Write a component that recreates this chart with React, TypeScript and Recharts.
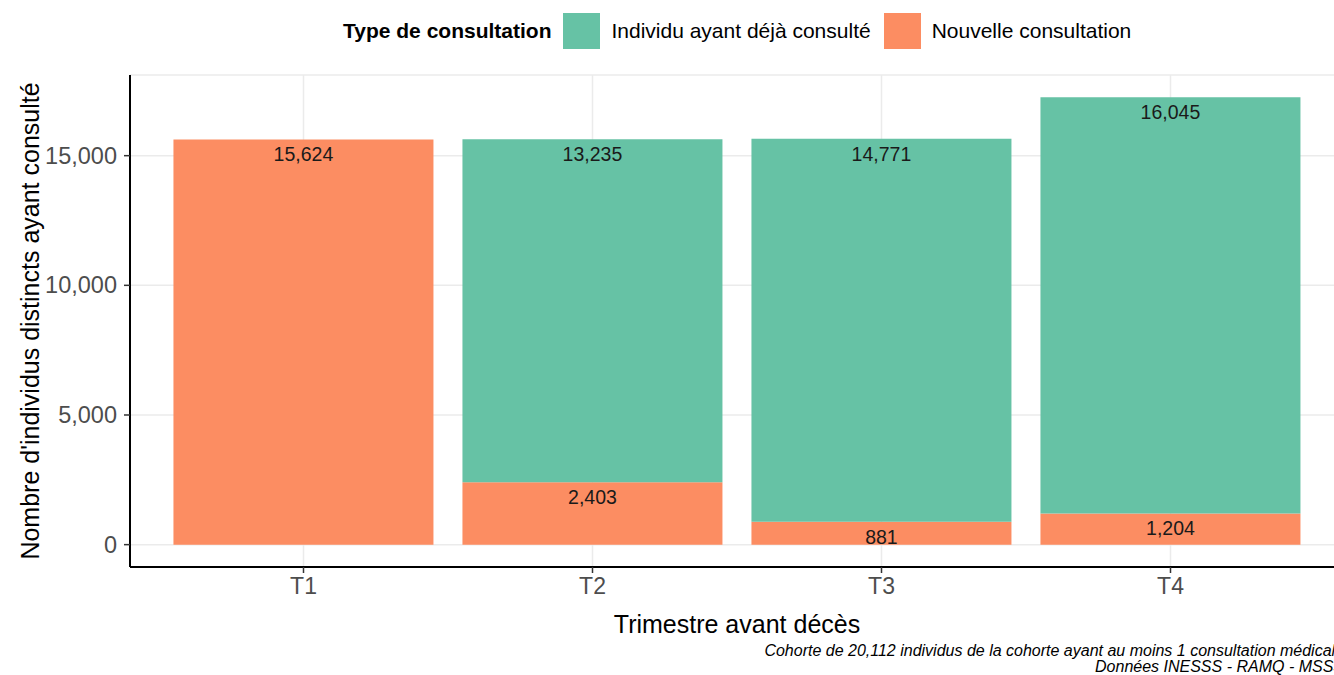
import { BarChart, Bar, XAxis, YAxis, CartesianGrid, Legend, LabelList } from 'recharts'

const trimestres = ['T1', 'T2', 'T3', 'T4']
const nouvelle = [15624, 2403, 881, 1204]
const dejaConsulte = [0, 13235, 14771, 16045]
const yTicks = [0, 5000, 10000, 15000]

const series = [
  { key: 'deja', label: 'Individu ayant déjà consulté', color: '#66C2A5' },
  { key: 'nouvelle', label: 'Nouvelle consultation', color: '#FC8D62' },
]

const FONT = '"Liberation Sans", Arial, sans-serif'

const rows = trimestres.map((t, i) => ({
  trimestre: t,
  nouvelle: nouvelle[i],
  deja: dejaConsulte[i],
}))

const fmtNum = (v: number) => (v ? Number(v).toLocaleString('en-US') : '')

function LegendBox() {
  return (
    <div style={{ height: 62, display: 'flex', alignItems: 'center', fontFamily: FONT, fontSize: 21, color: '#000', paddingLeft: 343 }}>
      <span style={{ fontWeight: 700, marginRight: 12 }}>Type de consultation</span>
      {series.map(s => (
        <span key={s.key} style={{ display: 'flex', alignItems: 'center', marginRight: 13 }}>
          <span style={{ width: 37, height: 36, background: s.color, display: 'inline-block', marginRight: 11 }} />
          <span>{s.label}</span>
        </span>
      ))}
    </div>
  )
}

// eslint-disable-next-line @typescript-eslint/no-explicit-any
function TickY({ x, y, payload }: any) {
  return (
    <text x={x} y={y} textAnchor="end" dominantBaseline="central" style={{ fontFamily: FONT, fontSize: 23.5, fill: '#4D4D4D' }}>
      {Number(payload.value).toLocaleString('en-US')}
    </text>
  )
}

// eslint-disable-next-line @typescript-eslint/no-explicit-any
function TickX({ x, y, payload }: any) {
  return (
    <text x={x} y={y + 9} textAnchor="middle" dominantBaseline="central" style={{ fontFamily: FONT, fontSize: 23, fill: '#4D4D4D' }}>
      {payload.value}
    </text>
  )
}

// eslint-disable-next-line @typescript-eslint/no-explicit-any
function TitreY({ viewBox }: any) {
  const cy = viewBox.y + viewBox.height / 2
  return (
    <text x={30} y={cy} transform={`rotate(-90, 30, ${cy})`} textAnchor="middle" dominantBaseline="central"
      style={{ fontFamily: FONT, fontSize: 25, fill: '#000' }}>
      Nombre d'individus distincts ayant consulté
    </text>
  )
}

// eslint-disable-next-line @typescript-eslint/no-explicit-any
function TitreX({ viewBox }: any) {
  return (
    <text x={viewBox.x + viewBox.width / 2} y={viewBox.y + 57} textAnchor="middle" dominantBaseline="central"
      style={{ fontFamily: FONT, fontSize: 25, fill: '#000' }}>
      Trimestre avant décès
    </text>
  )
}

export default function App() {
  return (
    <div style={{ position: 'absolute', left: 0, top: 0, width: 1334, height: 675, overflow: 'hidden', background: '#fff', fontFamily: FONT }}>
      <BarChart width={1350} height={675} data={rows} margin={{ top: 13, right: 6, left: 0, bottom: 33 }} barCategoryGap="5%">
        <CartesianGrid stroke="#EBEBEB" strokeWidth={1.5} />
        <XAxis
          dataKey="trimestre"
          height={75}
          padding={{ left: 29, right: 29 }}
          axisLine={{ stroke: '#000', strokeWidth: 2 }}
          tickLine={{ stroke: '#333', strokeWidth: 1.5 }}
          tickSize={6}
          tickMargin={4}
          tick={<TickX />}
          label={<TitreX />}
        />
        <YAxis
          width={130}
          domain={[-862, 18111]}
          allowDataOverflow
          ticks={yTicks}
          axisLine={{ stroke: '#000', strokeWidth: 2 }}
          tickLine={{ stroke: '#333', strokeWidth: 1.5 }}
          tickSize={6}
          tickMargin={7}
          tick={<TickY />}
          label={<TitreY />}
        />
        <Legend verticalAlign="top" align="left" wrapperStyle={{ top: 0, left: 0, width: 1334 }} content={() => <LegendBox />} />
        <Bar dataKey="nouvelle" name="Nouvelle consultation" stackId="a" fill="#FC8D62" isAnimationActive={false}>
          <LabelList dataKey="nouvelle" position="insideTop" offset={8} formatter={fmtNum}
            style={{ fontSize: 19.5, fill: '#1A1A1A', fontFamily: FONT }} />
        </Bar>
        <Bar dataKey="deja" name="Individu ayant déjà consulté" stackId="a" fill="#66C2A5" isAnimationActive={false}>
          <LabelList dataKey="deja" position="insideTop" offset={8} formatter={fmtNum}
            style={{ fontSize: 19.5, fill: '#1A1A1A', fontFamily: FONT }} />
        </Bar>
      </BarChart>
      <div style={{ position: 'absolute', left: 0, top: 643, width: 1344, textAlign: 'right', fontStyle: 'italic', fontSize: 16, lineHeight: '16px', color: '#000' }}>
        Cohorte de 20,112 individus de la cohorte ayant au moins 1 consultation médicale
        <br />
        Données INESSS - RAMQ - MSSS
      </div>
    </div>
  )
}
